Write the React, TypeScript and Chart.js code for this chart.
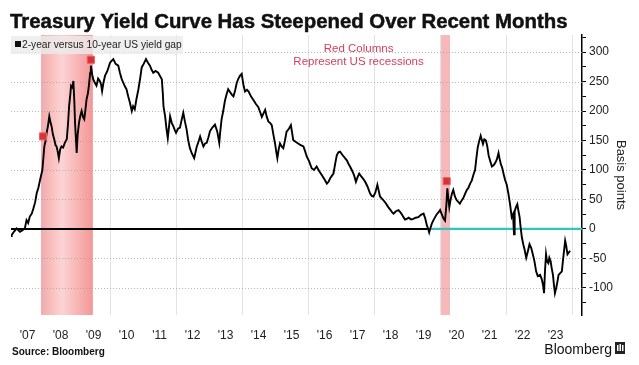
import { useEffect, useRef } from 'react';
import { Chart, registerables } from 'chart.js';

Chart.register(...registerables);

// ---- data (decimal years, basis points) ----
const dates = [
  2007.00, 2007.02, 2007.10, 2007.17, 2007.27, 2007.35, 2007.42, 2007.47, 2007.52, 2007.57,
  2007.63, 2007.68, 2007.73, 2007.78, 2007.83, 2007.88, 2007.95, 2008.01, 2008.05, 2008.08,
  2008.12, 2008.16, 2008.20, 2008.23, 2008.27, 2008.31, 2008.35, 2008.38, 2008.42, 2008.45,
  2008.49, 2008.53, 2008.58, 2008.63, 2008.69, 2008.73, 2008.76, 2008.80, 2008.82, 2008.86,
  2008.89, 2008.92, 2008.94, 2008.97, 2008.99, 2009.02, 2009.06, 2009.10, 2009.14, 2009.18,
  2009.22, 2009.26, 2009.29, 2009.33, 2009.36, 2009.40, 2009.42, 2009.46, 2009.49, 2009.54,
  2009.59, 2009.64, 2009.69, 2009.73, 2009.76, 2009.80, 2009.85, 2009.92, 2010.00, 2010.05,
  2010.10, 2010.17, 2010.25, 2010.30, 2010.35, 2010.40, 2010.45, 2010.50, 2010.55, 2010.60,
  2010.66, 2010.70, 2010.75, 2010.80, 2010.86, 2010.92, 2010.96, 2011.02, 2011.09, 2011.15,
  2011.21, 2011.26, 2011.31, 2011.38, 2011.46, 2011.51, 2011.57, 2011.60, 2011.62, 2011.67,
  2011.71, 2011.75, 2011.79, 2011.82, 2011.87, 2011.92, 2011.96, 2012.00, 2012.06, 2012.12,
  2012.17, 2012.22, 2012.27, 2012.32, 2012.37, 2012.42, 2012.48, 2012.55, 2012.59, 2012.63,
  2012.68, 2012.73, 2012.78, 2012.83, 2012.88, 2012.93, 2012.98, 2013.03, 2013.10, 2013.18,
  2013.25, 2013.31, 2013.34, 2013.38, 2013.43, 2013.48, 2013.53, 2013.58, 2013.64, 2013.69,
  2013.74, 2013.79, 2013.84, 2013.89, 2013.94, 2013.99, 2014.04, 2014.09, 2014.15, 2014.20,
  2014.27, 2014.34, 2014.42, 2014.49, 2014.55, 2014.60, 2014.65, 2014.70, 2014.75, 2014.80,
  2014.85, 2014.90, 2014.95, 2015.00, 2015.04, 2015.07, 2015.11, 2015.15, 2015.20, 2015.25,
  2015.30, 2015.35, 2015.42, 2015.48, 2015.52, 2015.55, 2015.62, 2015.70, 2015.78, 2015.86,
  2015.91, 2015.96, 2016.03, 2016.11, 2016.18, 2016.26, 2016.34, 2016.42, 2016.50, 2016.57,
  2016.62, 2016.67, 2016.72, 2016.77, 2016.82, 2016.87, 2016.92, 2016.97, 2017.05, 2017.12,
  2017.18, 2017.22, 2017.28, 2017.35, 2017.40, 2017.45, 2017.50, 2017.55, 2017.60, 2017.67,
  2017.73, 2017.80, 2017.88, 2017.93, 2017.98, 2018.04, 2018.10, 2018.14, 2018.18, 2018.23,
  2018.28, 2018.35, 2018.43, 2018.50, 2018.55, 2018.59, 2018.66, 2018.74, 2018.80, 2018.85,
  2018.89, 2018.94, 2018.99, 2019.05, 2019.12, 2019.19, 2019.26, 2019.34, 2019.42, 2019.50,
  2019.55, 2019.60, 2019.64, 2019.67, 2019.71, 2019.75, 2019.80, 2019.85, 2019.90, 2019.95,
  2020.00, 2020.05, 2020.10, 2020.15, 2020.19, 2020.22, 2020.25, 2020.28, 2020.32, 2020.36,
  2020.40, 2020.45, 2020.50, 2020.55, 2020.60, 2020.65, 2020.70, 2020.76, 2020.81, 2020.86,
  2020.91, 2020.96, 2021.01, 2021.06, 2021.10, 2021.14, 2021.18, 2021.23, 2021.27, 2021.30,
  2021.34, 2021.39, 2021.43, 2021.47, 2021.52, 2021.57, 2021.62, 2021.67, 2021.72, 2021.77,
  2021.80, 2021.84, 2021.88, 2021.93, 2021.97, 2022.02, 2022.07, 2022.12, 2022.17, 2022.21,
  2022.24, 2022.26, 2022.30, 2022.34, 2022.37, 2022.41, 2022.44, 2022.48, 2022.52, 2022.56,
  2022.61, 2022.66, 2022.71, 2022.76, 2022.81, 2022.86, 2022.91, 2022.96, 2023.03, 2023.08,
  2023.12, 2023.15, 2023.18, 2023.21, 2023.24, 2023.28, 2023.31, 2023.35, 2023.38, 2023.42,
  2023.45, 2023.48, 2023.52, 2023.56, 2023.59, 2023.64, 2023.69, 2023.73, 2023.76, 2023.79,
  2023.82, 2023.86, 2023.90, 2023.94,
];

const spread = [
  -12, -10, -4, 1, -5, -2, 1, 15, 10, 21,
  26, 35, 45, 61, 70, 83, 100, 140, 150, 163,
  175, 191, 180, 174, 160, 152, 142, 140, 130, 120,
  135, 140, 138, 146, 152, 180, 208, 230, 243, 240,
  251, 215, 180, 150, 129, 160, 180, 192, 200, 190,
  186, 205, 220, 230, 243, 265, 277, 262, 254, 248,
  243, 255, 251, 245, 234, 248, 260, 268, 282, 285,
  288, 280, 277, 265, 255, 248, 242, 237, 225, 215,
  200, 208, 203, 220, 237, 258, 274, 280, 288, 282,
  277, 270, 265, 268, 265, 260, 254, 230, 208, 191,
  170, 154, 175, 191, 180, 174, 168, 163, 170, 172,
  185, 197, 182, 169, 150, 137, 128, 120, 130, 140,
  148, 157, 148, 140, 145, 146, 155, 166, 172, 177,
  165, 146, 165, 186, 200, 217, 228, 237, 232, 228,
  225, 235, 248, 255, 260, 263, 245, 233, 236, 233,
  225, 219, 212, 207, 198, 190, 196, 202, 190, 182,
  180, 176, 160, 145, 130, 120, 135, 145, 140, 137,
  150, 165, 170, 176, 162, 151, 148, 145, 142, 140,
  132, 123, 115, 103, 100, 106, 98, 91, 84, 77,
  80, 86, 90, 94, 110, 125, 130, 131, 125, 120,
  116, 111, 105, 97, 90, 80, 88, 94, 90, 85,
  80, 72, 60, 56, 55, 62, 75, 65, 55, 52,
  49, 44, 37, 32, 28, 26, 30, 32, 28, 24,
  20, 16, 17, 19, 16, 17, 19, 20, 24, 26,
  18, 6, 0, -6, 2, 9, 15, 20, 25, 28,
  32, 25, 18, 14, 40, 69, 52, 37, 50, 60,
  66, 55, 49, 46, 43, 48, 52, 60, 66, 70,
  77, 82, 92, 100, 120, 138, 148, 158, 150, 144,
  152, 150, 140, 125, 115, 106, 108, 112, 118, 129,
  120, 110, 104, 92, 83, 75, 60, 42, 20, 25,
  -9, 30, 37, 42, 32, 20, 3, -15, -26, -35,
  -49, -38, -26, -32, -43, -55, -72, -80, -78, -85,
  -95, -109, -70, -43, -55, -58, -49, -55, -66, -78,
  -95, -109, -100, -88, -78, -75, -72, -50, -35, -20,
  -28, -43, -40, -37,
];

const recessionStarts = [2007.91, 2020.03];
const recessionEnds = [2009.48, 2020.30];
const markerDates = [2007.97, 2009.42, 2020.2];
const markerValues = [157, 287, 81];
const zeroSplit = 2019.62;
const xMin = 2007.0;
const xMax = 2024.3;
const yMin = -146;
const yMax = 329;
const labelYears = [2007, 2008, 2009, 2010, 2011, 2012, 2013, 2014, 2015, 2016, 2017, 2018, 2019, 2020, 2021, 2022, 2023];
const yearLabels = ["'07", "'08", "'09", "'10", "'11", "'12", "'13", "'14", "'15", "'16", "'17", "'18", "'19", "'20", "'21", "'22", "'23"];
const gridYears = [2008, 2010, 2012, 2014, 2016, 2018, 2020, 2022, 2024];
const gridValues = [-100, -50, 50, 100, 150, 200, 250, 300];
const yTickValues = [-125, -100, -75, -50, -25, 0, 25, 50, 75, 100, 125, 150, 175, 200, 225, 250, 275, 300, 325];
const yLabelValues = [-100, -50, 0, 50, 100, 150, 200, 250, 300];

const TITLE = 'Treasury Yield Curve Has Steepened Over Recent Months';
const LEGEND = '2-year versus 10-year US yield gap';
const NOTE = ['Red Columns', 'Represent US recessions'];
const FONT = "'Liberation Sans', Arial, sans-serif";

const decorPlugin = {
  id: 'decor',
  beforeDatasetsDraw(chart: any) {
    const { ctx, chartArea: a, scales } = chart;
    const x = scales.x;
    const y = scales.y;
    ctx.save();
    // recession columns
    recessionStarts.forEach((s: number, i: number) => {
      const x0 = x.getPixelForValue(s);
      const x1 = x.getPixelForValue(recessionEnds[i]);
      const g = ctx.createLinearGradient(x0, 0, x1, 0);
      if (x1 - x0 > 20) {
        g.addColorStop(0, 'rgba(246,168,168,1)');
        g.addColorStop(0.4, 'rgba(252,212,212,1)');
        g.addColorStop(1, 'rgba(244,150,150,1)');
      } else {
        g.addColorStop(0, 'rgba(246,184,184,1)');
        g.addColorStop(1, 'rgba(246,184,184,1)');
      }
      ctx.fillStyle = g;
      ctx.fillRect(x0, a.top, x1 - x0, a.bottom - a.top);
    });
    // vertical grid
    ctx.strokeStyle = 'rgba(200,200,200,0.5)';
    ctx.lineWidth = 1;
    gridYears.forEach((yr: number) => {
      const px = Math.round(x.getPixelForValue(yr)) + 0.5;
      ctx.beginPath();
      ctx.moveTo(px, a.top);
      ctx.lineTo(px, a.bottom);
      ctx.stroke();
    });
    // horizontal dotted grid
    ctx.strokeStyle = 'rgba(160,160,160,0.75)';
    ctx.setLineDash([1, 2]);
    gridValues.forEach((v: number) => {
      const py = Math.round(y.getPixelForValue(v)) + 0.5;
      ctx.beginPath();
      ctx.moveTo(a.left, py);
      ctx.lineTo(a.right, py);
      ctx.stroke();
    });
    ctx.setLineDash([]);
    // legend box (behind the line)
    ctx.fillStyle = 'rgba(236,236,236,0.82)';
    ctx.fillRect(a.left, 36, 172, 18);
    ctx.restore();
  },
  afterDraw(chart: any) {
    const { ctx, chartArea: a, scales } = chart;
    const x = scales.x;
    ctx.save();
    // title
    let size = 20;
    ctx.font = `bold ${size}px ${FONT}`;
    const w = ctx.measureText(TITLE).width;
    size = size * 558 / w;
    ctx.font = `bold ${size}px ${FONT}`;
    ctx.fillStyle = '#111';
    ctx.textBaseline = 'alphabetic';
    ctx.textAlign = 'left';
    ctx.fillText(TITLE, 10, 28);
    ctx.lineWidth = 0.5;
    ctx.strokeStyle = '#111';
    ctx.strokeText(TITLE, 10, 28);
    // legend text
    ctx.fillStyle = '#111';
    ctx.fillRect(a.left + 4, 41, 6, 6);
    ctx.font = `11px ${FONT}`;
    const lw = ctx.measureText(LEGEND).width;
    const ls = 11 * 160 / lw;
    ctx.font = `${ls}px ${FONT}`;
    ctx.fillStyle = '#222';
    ctx.textBaseline = 'middle';
    ctx.fillText(LEGEND, a.left + 11, 45);
    // note
    ctx.font = `11.5px ${FONT}`;
    ctx.fillStyle = '#d43f5d';
    ctx.textAlign = 'center';
    const nx = x.getPixelForValue(2017.5) + 1;
    ctx.fillText(NOTE[0], nx, 49);
    ctx.fillText(NOTE[1], nx, 62);
    // footer
    ctx.textAlign = 'left';
    ctx.fillStyle = '#111';
    ctx.font = `bold 10px ${FONT}`;
    ctx.textBaseline = 'alphabetic';
    ctx.fillText('Source: Bloomberg', 12, 355);
    ctx.font = `14px ${FONT}`;
    ctx.textAlign = 'right';
    ctx.fillText('Bloomberg', 612, 354);
    // logo
    ctx.fillStyle = '#222';
    ctx.fillRect(615, 342, 10, 12);
    ctx.fillStyle = '#fff';
    ctx.fillRect(617, 345, 1.5, 6);
    ctx.fillRect(619.5, 344, 1.5, 7);
    ctx.fillRect(622, 345, 1.5, 6);
    ctx.restore();
  },
};

export default function App() {
  const ref = useRef<HTMLCanvasElement | null>(null);
  useEffect(() => {
    if (!ref.current) return;
    const lineData = dates.map((d, i) => ({ x: d, y: spread[i] }));
    const markers = markerDates.map((d, i) => ({ x: d, y: markerValues[i] }));
    const chart = new Chart(ref.current, {
      type: 'line',
      data: {
        datasets: [
          {
            label: 'markers',
            data: markers,
            showLine: false,
            pointStyle: 'rect',
            pointRadius: 5,
            pointBackgroundColor: '#d7333a',
            pointBorderColor: '#e86060',
            pointBorderWidth: 1,
            order: 0,
          } as any,
          {
            label: LEGEND,
            data: lineData,
            borderColor: '#000',
            borderWidth: 1.9,
            pointRadius: 0,
            tension: 0,
            order: 1,
          },
          {
            label: 'zero-black',
            data: [{ x: xMin, y: 0 }, { x: zeroSplit, y: 0 }],
            borderColor: '#000',
            borderWidth: 2,
            pointRadius: 0,
            order: 2,
          },
          {
            label: 'zero-teal',
            data: [{ x: zeroSplit, y: 0 }, { x: xMax, y: 0 }],
            borderColor: '#33c4c0',
            borderWidth: 2.2,
            pointRadius: 0,
            order: 2,
          },
        ],
      },
      options: {
        animation: false,
        responsive: true,
        maintainAspectRatio: false,
        layout: { padding: { left: 11, top: 35, right: 0, bottom: 0 } },
        plugins: {
          legend: { display: false },
          tooltip: { enabled: false },
        },
        scales: {
          x: {
            type: 'linear',
            min: xMin,
            max: xMax,
            afterBuildTicks: (scale: any) => {
              scale.ticks = labelYears.map((yr) => ({ value: yr + 0.5 }));
            },
            afterFit: (scale: any) => {
              scale.height = 50;
            },
            ticks: {
              autoSkip: false,
              maxRotation: 0,
              padding: 13,
              color: '#222',
              font: { size: 12, family: FONT },
              callback: (_v: any, i: number) => yearLabels[i],
            },
            grid: { display: false, drawTicks: false },
            border: { display: false },
          },
          y: {
            type: 'linear',
            position: 'right',
            min: yMin,
            max: yMax,
            afterBuildTicks: (scale: any) => {
              scale.ticks = yTickValues.map((v) => ({ value: v }));
            },
            afterFit: (scale: any) => {
              scale.width = 57;
            },
            ticks: {
              autoSkip: false,
              padding: 3,
              color: '#222',
              font: { size: 12, family: FONT },
              callback: (v: any) => (yLabelValues.includes(Number(v)) ? String(v) : ''),
            },
            grid: {
              drawOnChartArea: false,
              drawTicks: true,
              tickLength: 4,
              tickColor: '#000',
              tickWidth: 1,
            },
            border: { display: true, color: '#000', width: 1.5 },
            title: {
              display: true,
              text: 'Basis points',
              color: '#222',
              font: { size: 13, family: FONT },
              padding: { top: 11, bottom: 0 },
            },
          },
        },
      },
      plugins: [decorPlugin],
    });
    return () => chart.destroy();
  }, []);
  return (
    <div style={{ position: 'fixed', left: 0, top: 0, width: 639, height: 365, background: '#fff' }}>
      <canvas ref={ref} />
    </div>
  );
}
